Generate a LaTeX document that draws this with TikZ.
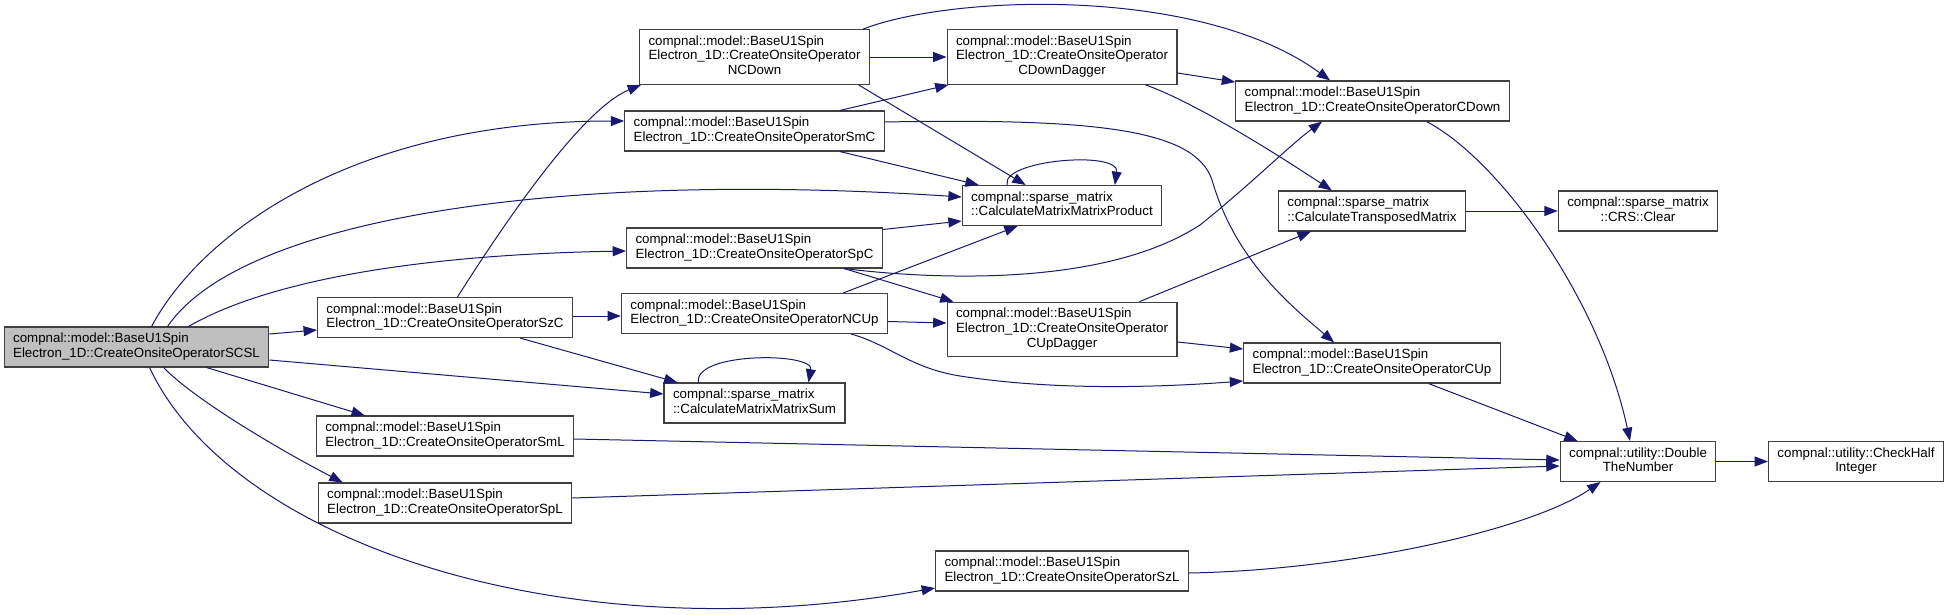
\documentclass[tikz,border=0pt]{standalone}
\usepackage{fontspec}
\setmainfont{Liberation Sans}
\usetikzlibrary{arrows.meta,calc}

\definecolor{edgeblue}{RGB}{25,25,112}
\definecolor{boxline}{RGB}{64,64,64}
\definecolor{rootgray}{RGB}{191,191,191}

\newcommand{\opname}[1]{\begin{tabular}{@{}l@{}}compnal::model::BaseU1Spin\\Electron\_1D::CreateOnsiteOperator#1\end{tabular}}
\newcommand{\opnamelong}[1]{\begin{tabular}{@{}l@{}}compnal::model::BaseU1Spin\\Electron\_1D::CreateOnsiteOperator\\\multicolumn{1}{@{}c@{}}{#1}\end{tabular}}
\newcommand{\leftname}[2]{\begin{tabular}{@{}l@{}}#1\\#2\end{tabular}}
\newcommand{\midname}[2]{\begin{tabular}{@{}c@{}}#1\\#2\end{tabular}}

\tikzset{
  fn/.style={draw=boxline,line width=0.8pt,fill=white,inner xsep=6.75pt,inner ysep=4pt,
    font=\fontsize{10}{11}\selectfont},
  rootfn/.style={fn,fill=rootgray},
  call/.style={draw=edgeblue,line width=0.75pt,-{Triangle[length=10pt,width=7.5pt]}}
}

\begin{document}
\begin{tikzpicture}[x=0.75pt,y=-0.75pt]
  \path[use as bounding box,fill=white] (0,0) rectangle (1952,614);

  % functions, one column per call depth
  \node[rootfn] (root) at (136.5,347) {\opname{SCSL}};

  \node[fn] (szc) at (445,317.5) {\opname{SzC}};
  \node[fn] (sml) at (445,436) {\opname{SmL}};
  \node[fn] (spl) at (445,503) {\opname{SpL}};

  \node[fn] (ncdown) at (754.5,57) {\opnamelong{NCDown}};
  \node[fn] (smc) at (754.5,131) {\opname{SmC}};
  \node[fn] (spc) at (754.5,248) {\opname{SpC}};
  \node[fn] (ncup) at (754.5,313.5) {\opname{NCUp}};
  \node[fn] (msum) at (754.5,403) {\leftname{compnal::sparse\_matrix}{::CalculateMatrixMatrixSum}};

  \node[fn] (cdd) at (1062,57) {\opnamelong{CDownDagger}};
  \node[fn] (mprod) at (1062,205.5) {\leftname{compnal::sparse\_matrix}{::CalculateMatrixMatrixProduct}};
  \node[fn] (cud) at (1062,329.5) {\opnamelong{CUpDagger}};
  \node[fn] (szl) at (1062,571) {\opname{SzL}};

  \node[fn] (cdown) at (1372.5,101) {\opname{CDown}};
  \node[fn] (trans) at (1372,211) {\leftname{compnal::sparse\_matrix}{::CalculateTransposedMatrix}};
  \node[fn] (cup) at (1372,363) {\opname{CUp}};

  \node[fn] (clear) at (1638,211) {\midname{compnal::sparse\_matrix}{::CRS::Clear}};
  \node[fn] (dbl) at (1638,461.5) {\midname{compnal::utility::Double}{TheNumber}};
  \node[fn] (chk) at (1856,461.5) {\midname{compnal::utility::CheckHalf}{Integer}};

  % calls from the root
  \path[call] ($(root.north west)+(148,0)$) .. controls (200,235) and (350,121) .. ($(smc.west)+(0,-10)$);
  \path[call] ($(root.north west)+(164,0)$) .. controls (240,220) and (550,170) .. ($(mprod.west)+(0,-8.5)$);
  \path[call] ($(root.north west)+(185,0)$) .. controls (260,285) and (400,255) .. ($(spc.west)+(0,3)$);
  \path[call] ($(root.east)+(0,-13)$) -- ($(szc.west)+(0,12.5)$);
  \path[call] ($(root.east)+(0,13)$) -- ($(msum.west)+(0,-9)$);
  \path[call] ($(root.south west)+(203,0)$) -- ($(sml.north west)+(49,0)$);
  \path[call] ($(root.south west)+(160,0)$) .. controls (195,400) and (280,450) .. ($(spl.north west)+(25,0)$);
  \path[call] ($(root.south west)+(146,0)$) .. controls (230,540) and (560,655) .. ($(szl.west)+(0,17)$);

  % second column
  \path[call] ($(szc.north)+(12.5,0)$) .. controls (500,230) and (580,110) .. ($(ncdown.south west)+(2,0)$);
  \path[call] ($(szc.east)+(0,-1.5)$) -- ($(ncup.west)+(0,2.5)$);
  \path[call] ($(szc.south)+(75,0)$) -- ($(msum.north west)+(14,0)$);
  \path[call] ($(sml.east)+(0,3)$) -- ($(dbl.west)+(0,-1.5)$);
  \path[call] ($(spl.east)+(0,-5)$) -- ($(dbl.west)+(0,4.5)$);

  % third column
  \path[call] (ncdown.east) -- (cdd.west);
  \path[call] ($(ncdown.north east)+(-7,0)$) .. controls (950,-5) and (1200,-15) .. ($(cdown.north west)+(95,0)$);
  \path[call] ($(ncdown.south east)+(-11.5,0)$) -- ($(mprod.north west)+(64,0)$);
  \path[call] ($(smc.north east)+(-45,0)$) -- ($(cdd.south west)+(2,0)$);
  \path[call] ($(smc.south east)+(-45,0)$) -- ($(mprod.north west)+(17,0)$);
  \path[call] ($(smc.east)+(0,-9)$) .. controls (1100,118) and (1195,130) .. (1212,180)
    .. controls (1235,260) and (1290,305) .. ($(cup.north west)+(91,0)$);
  \path[call] ($(spc.north east)+(0,2)$) -- ($(mprod.west)+(0,15.5)$);
  \path[call] ($(spc.south east)+(-39,0)$) .. controls (920,278) and (1100,290) .. (1200,225)
    .. controls (1250,185) and (1290,145) .. ($(cdown.south west)+(87,0)$);
  \path[call] ($(spc.south east)+(-39,0)$) -- ($(cud.north west)+(7,0)$);
  \path[call] ($(ncup.north east)+(-45,0)$) -- ($(mprod.south west)+(56,0)$);
  \path[call] ($(ncup.east)+(0,8)$) -- ($(cud.west)+(0,-6.5)$);
  \path[call] ($(ncup.south east)+(-37,0)$) .. controls (890,345) and (910,368) .. (960,376)
    .. controls (1050,390) and (1150,388) .. ($(cup.west)+(0,18)$);
  \path[call] ($(msum.north west)+(35,0)$) .. controls (693,352) and (814,352) .. ($(msum.north east)+(-37,0)$);

  % fourth column
  \path[call] ($(mprod.north west)+(45.5,0)$) .. controls (1000,160) and (1120,150) .. ($(mprod.north east)+(-47.5,0)$);
  \path[call] ($(cdd.east)+(0,16)$) -- ($(cdown.west)+(0,-19)$);
  \path[call] ($(cdd.south east)+(-32,0)$) .. controls (1180,97) and (1240,130) .. ($(trans.north west)+(54,0)$);
  \path[call] ($(cud.north east)+(-38,0)$) -- ($(trans.south west)+(33,0)$);
  \path[call] ($(cud.east)+(0,12.5)$) -- ($(cup.west)+(0,-14)$);
  \path[call] ($(szl.east)+(0,2)$) .. controls (1350,570) and (1530,530) .. ($(dbl.south west)+(41,0)$);

  % last columns
  \path[call] ($(cdown.south)+(54,0)$) .. controls (1500,160) and (1600,300) .. ($(dbl.north)+(-8,0)$);
  \path[call] ($(cup.south)+(56.5,0)$) -- ($(dbl.north west)+(18,0)$);
  \path[call] (trans.east) -- (clear.west);
  \path[call] (dbl.east) -- (chk.west);
\end{tikzpicture}
\end{document}
